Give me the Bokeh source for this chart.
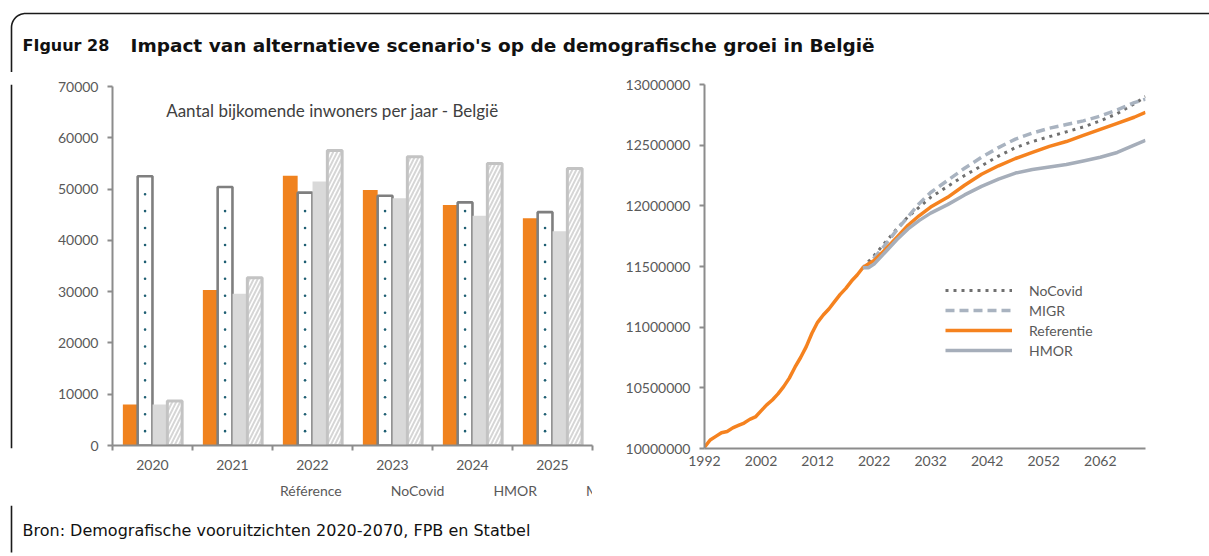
import numpy as np
from bokeh.plotting import figure
from bokeh.layouts import column, row
from bokeh.models import (Range1d, FixedTicker, Legend, LegendItem, Label,
                          ColumnDataSource, NumeralTickFormatter)
from bokeh.transform import dodge
from bokeh.embed import file_html
from bokeh.resources import INLINE

# ---------------- data ----------------
bar_years = ["2020", "2021", "2022", "2023", "2024", "2025"]
bar_referentie = [8000, 30300, 52600, 49800, 46900, 44300]
bar_nocovid = [52500, 50400, 49300, 48700, 47400, 45500]
bar_hmor = [8000, 29600, 51500, 48200, 44800, 41800]
bar_migr = [8700, 32700, 57500, 56300, 55000, 54000]
bar_y_ticks = [0, 10000, 20000, 30000, 40000, 50000, 60000, 70000]

hist_years = [1992, 1993, 1994, 1995, 1996, 1997, 1998, 1999, 2000, 2001,
              2002, 2003, 2004, 2005, 2006, 2007, 2008, 2009, 2010, 2011,
              2012, 2013, 2014, 2015, 2016, 2017, 2018, 2019]
hist_pop = [10010000, 10070000, 10100000, 10130000, 10140000, 10170000,
            10190000, 10210000, 10240000, 10260000, 10310000, 10360000,
            10400000, 10450000, 10510000, 10580000, 10670000, 10750000,
            10840000, 10950000, 11040000, 11100000, 11150000, 11210000,
            11270000, 11320000, 11380000, 11430000]
proj_years = [2020, 2021, 2022, 2024, 2026, 2028, 2030, 2032, 2035, 2038,
              2041, 2044, 2047, 2050, 2053, 2056, 2059, 2062, 2065, 2068, 2070]
proj_referentie = [11490000, 11520000, 11550000, 11640000, 11740000, 11840000,
                   11920000, 11990000, 12070000, 12170000, 12260000, 12330000,
                   12390000, 12440000, 12490000, 12530000, 12580000, 12630000,
                   12680000, 12730000, 12770000]
proj_nocovid = [11490000, 11540000, 11590000, 11700000, 11810000, 11910000,
                11990000, 12070000, 12160000, 12250000, 12330000, 12410000,
                12480000, 12530000, 12570000, 12610000, 12650000, 12700000,
                12760000, 12840000, 12900000]
proj_migr = [11490000, 11520000, 11570000, 11680000, 11800000, 11910000,
             12020000, 12110000, 12210000, 12310000, 12400000, 12480000,
             12550000, 12600000, 12640000, 12670000, 12700000, 12740000,
             12790000, 12850000, 12880000]
proj_hmor = [11490000, 11490000, 11520000, 11620000, 11720000, 11810000,
             11880000, 11940000, 12010000, 12090000, 12160000, 12220000,
             12270000, 12300000, 12320000, 12340000, 12370000, 12400000,
             12440000, 12500000, 12540000]
line_y_ticks = [10000000, 10500000, 11000000, 11500000, 12000000, 12500000, 13000000]
line_x_ticks = [1992, 2002, 2012, 2022, 2032, 2042, 2052, 2062]

# ---------------- styles ----------------
FONT = "Lato"
TICK_SIZE = "14px"
TICK_COLOR = "#595959"
AXIS_COLOR = "#8C8C8C"
ORANGE = "#F0821E"
BORDER = "#1A1A1A"
TOTAL_W = 1209
HEAD_H, MID_H, FOOT_H = 72, 433, 51
STRIP_W = 14
LEFT_W = 616 - STRIP_W
RIGHT_W = TOTAL_W - STRIP_W - LEFT_W
LEG_H = 28
BAR_H = MID_H - LEG_H

NOC_STYLE = dict(fill_color="white", line_color="#7F7F7F", line_width=2.6)
MIGR_STYLE = dict(fill_color="white", line_color="#C3C3C3", line_width=3,
                  hatch_pattern="/", hatch_color="#D6D6D6", hatch_scale=8,
                  hatch_weight=2)


def blank(width, height):
    p = figure(width=width, height=height, x_range=Range1d(0, width),
               y_range=Range1d(height, 0), output_backend="svg",
               toolbar_location=None, x_axis_location=None, y_axis_location=None,
               min_border=0, outline_line_color=None)
    p.grid.visible = False
    return p


# ---------------- header ----------------
head = blank(TOTAL_W, HEAD_H)
r = 14
t = np.linspace(0, np.pi / 2, 20)
cx, cy = 11 + r, 13 + r
bx = np.concatenate([[11, 11], cx - r * np.cos(t), [TOTAL_W]])
by = np.concatenate([[HEAD_H, cy], cy - r * np.sin(t), [13]])
head.line(bx, by, line_color=BORDER, line_width=1.6)
head.add_layout(Label(x=22, y=45, text="FIguur 28", text_font="DejaVu Sans",
                      text_font_style="bold", text_font_size="16px",
                      text_color="#111111", text_baseline="middle"))
head.add_layout(Label(x=130, y=45,
                      text="Impact van alternatieve scenario's op de demografische groei in België",
                      text_font="DejaVu Sans", text_font_style="bold",
                      text_font_size="18.5px", text_color="#111111",
                      text_baseline="middle"))

# ---------------- strip (left edge of the box) ----------------
strip = blank(STRIP_W, MID_H)
strip.line([11, 11], [0, MID_H], line_color=BORDER, line_width=1.6)

# ---------------- left bar chart ----------------
n = len(bar_years)
pl = figure(width=LEFT_W, height=BAR_H, x_range=Range1d(-0.5, n - 0.5),
            y_range=Range1d(0, 70000), output_backend="svg",
            toolbar_location=None, min_border_left=112 - STRIP_W,
            min_border_right=24, min_border_top=14, min_border_bottom=32,
            outline_line_color=None)
pl.grid.visible = False
src = ColumnDataSource(dict(x=list(range(n)), ref=bar_referentie,
                            noc=bar_nocovid, hmor=bar_hmor, migr=bar_migr))
bw = 0.185
pl.vbar(x=dodge("x", -0.278, range=pl.x_range), top="ref", width=bw,
        source=src, fill_color=ORANGE, line_color=None)
pl.vbar(x=dodge("x", -0.093, range=pl.x_range), top="noc", width=bw,
        source=src, **NOC_STYLE)
pl.vbar(x=dodge("x", 0.093, range=pl.x_range), top="hmor", width=bw,
        source=src, fill_color="#D9D9D9", line_color=None)
pl.vbar(x=dodge("x", 0.278, range=pl.x_range), top="migr", width=bw,
        source=src, **MIGR_STYLE)

# dotted fill pattern of the NoCovid bars (a column of small dots in each bar)
dot_step, dot_start, dot_end_gap = 3300, 2800, 1500
dot_x, dot_y = [], []
for i, v in enumerate(bar_nocovid):
    ys = np.arange(dot_start, v - dot_end_gap, dot_step)
    dot_x += [i] * len(ys)
    dot_y += list(ys)
dots = ColumnDataSource(dict(x=dot_x, y=dot_y))
pl.scatter(x=dodge("x", -0.093, range=pl.x_range), y="y", source=dots,
           size=2.6, marker="circle", fill_color="#1F5F73", line_color=None)

pl.yaxis.ticker = FixedTicker(ticks=bar_y_ticks)
pl.yaxis.formatter = NumeralTickFormatter(format="0")
pl.xaxis.ticker = FixedTicker(ticks=list(range(n)),
                              minor_ticks=[i - 0.5 for i in range(n + 1)])
pl.xaxis.major_label_overrides = {i: y for i, y in enumerate(bar_years)}
for ax in (pl.xaxis, pl.yaxis):
    ax.axis_line_color = AXIS_COLOR
    ax.axis_line_width = 2
    ax.major_label_text_font = FONT
    ax.major_label_text_font_size = TICK_SIZE
    ax.major_label_text_color = TICK_COLOR
pl.yaxis.major_tick_line_color = AXIS_COLOR
pl.yaxis.major_tick_line_width = 2
pl.yaxis.major_tick_out = 5
pl.yaxis.major_tick_in = 0
pl.yaxis.minor_tick_line_color = None
pl.yaxis.major_label_standoff = 9
pl.xaxis.major_tick_line_color = None
pl.xaxis.major_tick_out = 0
pl.xaxis.major_tick_in = 0
pl.xaxis.minor_tick_line_color = AXIS_COLOR
pl.xaxis.minor_tick_line_width = 2
pl.xaxis.minor_tick_out = 5
pl.xaxis.minor_tick_in = 0
pl.xaxis.major_label_standoff = 9

pl.add_layout(Label(x=2.25, y=65300, text="Aantal bijkomende inwoners per jaar - België",
                    text_font=FONT, text_font_size="17px", text_color="#404040",
                    text_align="center", text_baseline="middle"))

# ---------------- legend of the bar chart (own strip below it) ----------------
legfig = blank(LEFT_W, LEG_H)
k_ref = legfig.vbar(x=[], top=[], width=1, fill_color=ORANGE, line_color=None)
k_noc = legfig.vbar(x=[], top=[], width=1, **NOC_STYLE)
k_hmor = legfig.vbar(x=[], top=[], width=1, fill_color="#D9D9D9", line_color=None)
k_migr = legfig.vbar(x=[], top=[], width=1, **MIGR_STYLE)
leg_l = Legend(items=[LegendItem(label="Référence", renderers=[k_ref]),
                      LegendItem(label="NoCovid", renderers=[k_noc]),
                      LegendItem(label="HMOR", renderers=[k_hmor]),
                      LegendItem(label="MIGR", renderers=[k_migr])],
               orientation="horizontal", location=(169 - STRIP_W, 5),
               label_text_font=FONT, label_text_font_size=TICK_SIZE,
               label_text_color=TICK_COLOR, glyph_width=11, glyph_height=11,
               label_height=20, label_standoff=2, spacing=36, padding=0,
               margin=0, border_line_color=None, background_fill_alpha=0)
legfig.add_layout(leg_l)

# ---------------- right line chart ----------------
pr = figure(width=RIGHT_W, height=MID_H, x_range=Range1d(1992, 2070),
            y_range=Range1d(10000000, 13000000), output_backend="svg",
            toolbar_location=None, min_border_left=88, min_border_right=64,
            min_border_top=12, min_border_bottom=57, outline_line_color=None)
pr.grid.visible = False
ref_years = hist_years + proj_years
ref_vals = hist_pop + proj_referentie
l_noc = pr.line(proj_years, proj_nocovid, line_color="#707070", line_width=3,
                line_dash="3 5")
l_migr = pr.line(proj_years, proj_migr, line_color="#A9B3C0", line_width=3.5,
                 line_dash="9 5")
l_ref = pr.line(ref_years, ref_vals, line_color="#F5821F", line_width=3.5)
l_hmor = pr.line(proj_years, proj_hmor, line_color="#A6AEBA", line_width=3.5)

pr.yaxis.ticker = FixedTicker(ticks=line_y_ticks)
pr.yaxis.formatter = NumeralTickFormatter(format="0")
pr.xaxis.ticker = FixedTicker(ticks=line_x_ticks)
for ax in (pr.xaxis, pr.yaxis):
    ax.axis_line_color = AXIS_COLOR
    ax.axis_line_width = 2
    ax.major_label_text_font = FONT
    ax.major_label_text_font_size = TICK_SIZE
    ax.major_label_text_color = TICK_COLOR
    ax.minor_tick_line_color = None
pr.yaxis.major_tick_line_color = AXIS_COLOR
pr.yaxis.major_tick_line_width = 2
pr.yaxis.major_tick_out = 5
pr.yaxis.major_tick_in = 0
pr.yaxis.major_label_standoff = 9
pr.xaxis.major_tick_line_color = None
pr.xaxis.major_tick_out = 0
pr.xaxis.major_tick_in = 0
pr.xaxis.major_label_standoff = 7

leg_r = Legend(items=[LegendItem(label="NoCovid", renderers=[l_noc]),
                      LegendItem(label="MIGR", renderers=[l_migr]),
                      LegendItem(label="Referentie", renderers=[l_ref]),
                      LegendItem(label="HMOR", renderers=[l_hmor])],
               location=(241, 88), label_text_font=FONT,
               label_text_font_size=TICK_SIZE, label_text_color=TICK_COLOR,
               glyph_width=67, glyph_height=20, label_height=20,
               label_standoff=17, spacing=0, padding=0, margin=0,
               border_line_color=None, background_fill_alpha=0)
pr.add_layout(leg_r)

# ---------------- footer ----------------
foot = blank(TOTAL_W, FOOT_H)
foot.line([11, 11], [0, 47], line_color=BORDER, line_width=1.6)
foot.add_layout(Label(x=22, y=25, text="Bron: Demografische vooruitzichten 2020-2070, FPB en Statbel",
                      text_font="DejaVu Sans", text_font_size="16px",
                      text_color="#111111", text_baseline="middle"))

layout = column(head, row(strip, column(pl, legfig), pr), foot)
open("out.html", "w").write(file_html(layout, INLINE))
